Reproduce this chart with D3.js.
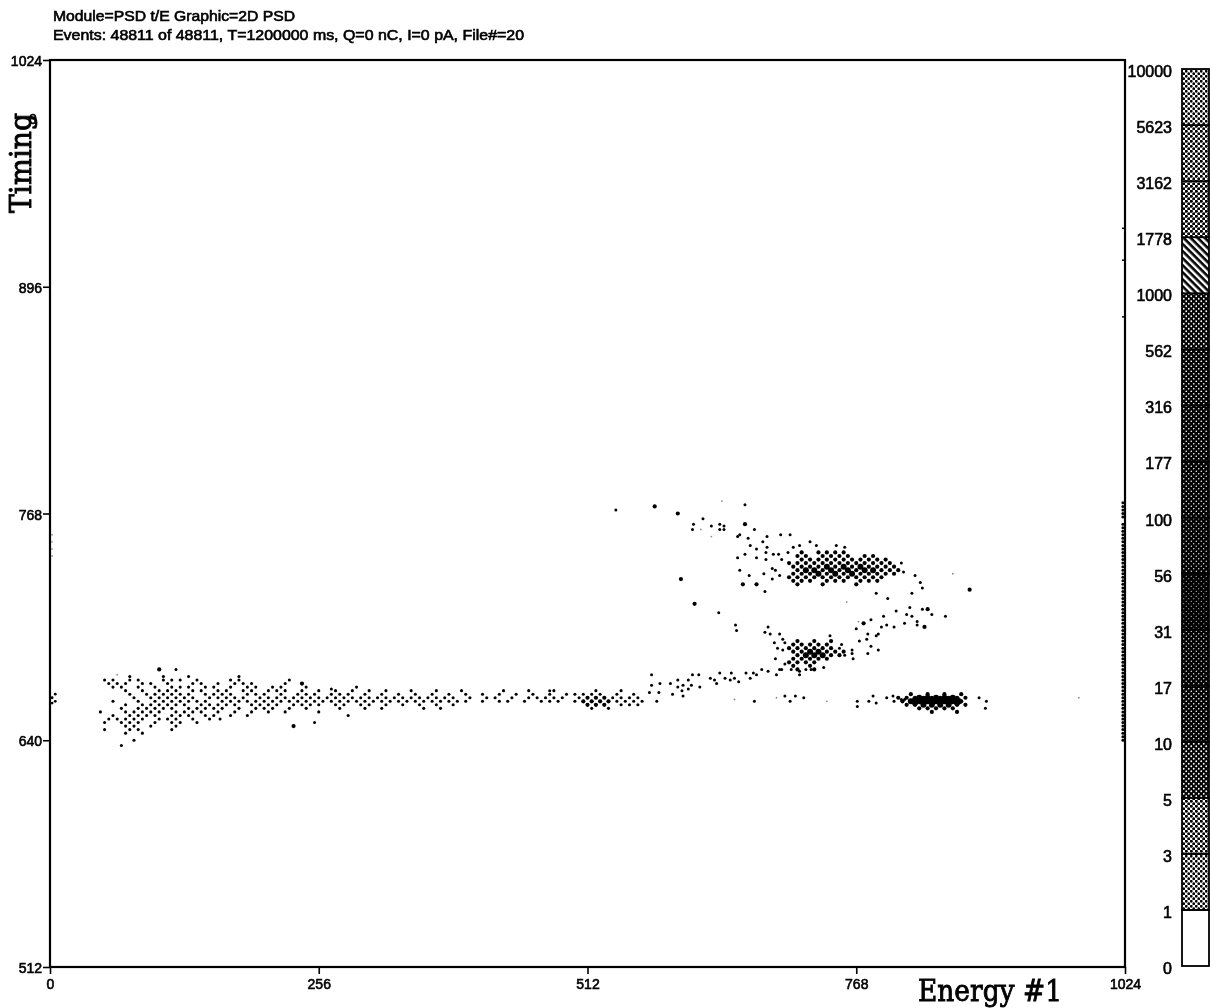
<!DOCTYPE html>
<html><head><meta charset="utf-8">
<script src="https://cdn.jsdelivr.net/npm/d3@7"></script>
<style>html,body{margin:0;padding:0;background:#fff}svg{display:block}
text{font-family:"Liberation Sans",sans-serif;fill:#000;stroke:#000;stroke-width:.6px}
.serif{font-family:"DejaVu Serif",serif;stroke-width:.9px}</style></head><body>
<script>
const energyTicks=[0,256,512,768,1024];
const timingTicks=[512,640,768,896,1024];
const levelLabels=["0","1","3","5","10","17","31","56","100","177","316","562","1000","1778","3162","5623","10000"];
const titleLines=["Module=PSD t/E Graphic=2D PSD","Events: 48811 of 48811, T=1200000 ms, Q=0 nC, I=0 pA, File#=20"];

// [timing, [energies]] : lattice rows of the histogram
const lightRows=[
[676,[76,108,132,180]],
[674,[52,60,76,84,108,116,124,140,172,180,228]],
[672,[56,64,72,88,96,112,136,144,160,176,184,192,224]],
[670,[60,68,84,100,116,124,132,148,156,172,188,196,212,220,244,292]],
[668,[72,88,104,112,120,136,144,160,168,184,192,208,216,224,240,256,272,288,304,320,344,368,392,432,456,480,520,544]],
[666,[76,92,100,108,116,124,132,148,156,164,172,188,196,204,220,236,244,252,268,276,284,300,316,332,348,364,380,396,412,428,444,460,476,492,500,508,516,524,540,556]],
[664,[80,96,104,112,120,128,136,152,160,168,176,184,200,208,216,224,232,240,248,256,264,272,280,288,296,304,312,320,328,336,344,352,360,368,376,384,400,416,424,440,456,464,472,480,488,504,512,520,528,536,544,552,560]],
[662,[60,84,100,108,116,124,132,140,148,164,172,180,188,196,204,212,220,228,236,244,252,260,268,276,284,292,300,308,316,324,332,340,348,356,364,372,380,388,396,412,428,436,452,468,476,484,500,508,516,524,532,540,548,556,564]],
[660,[72,88,96,104,112,120,128,144,152,160,168,176,192,200,208,216,232,240,248,256,272,280,296,304,320,336,352,368,384,512,520,528,544,552,560]],
[658,[68,84,92,100,108,116,132,140,148,156,164,180,196,204,212,228,244,276,300,316,356,372,516,532]],
[656,[48,72,80,88,96,104,120,128,136,144,160,176,192,208,224,256]],
[654,[60,76,84,92,100,116,124,132,148,156,172,188,284]],
[652,[56,64,72,80,88,104,112,120,136,152]],
[650,[52,68,76,84,100,116,124,140]],
[648,[72,80,96,120]],
[646,[52,76,84,116]],
[644,[72,88]],
[640,[80]],
[637,[68]]];

const denseRows=[
[746,[716,732,740,748,756]],
[744,[712,720,736,744,752,760,776,784]],
[742,[716,724,732,740,748,756,764,772,780,788,796]],
[740,[704,712,720,728,736,744,752,760,768,776,784,792,800]],
[738,[708,716,724,732,740,748,756,764,772,780,788,796,804]],
[736,[712,720,728,736,744,752,760,768,776,784,792,800,808]],
[734,[708,716,724,732,740,748,756,764,772,780,788,796,804]],
[732,[704,712,720,728,736,744,752,760,768,776,784,792]],
[730,[708,716,724,740,748,756,772,780,788]],
[728,[712,736,768]],
[696,[712,728,744]],
[694,[708,716,724,732,740]],
[692,[704,712,720,728,736,744]],
[690,[708,716,724,732,740,748,756]],
[688,[712,720,728,736,744,752]],
[686,[708,716,724,732,740]],
[684,[704,712,720,728]],
[682,[708,724]],
[680,[712,728]],
[666,[820,836,852,868]],
[664,[808,816,824,832,840,848,856,864,872]],
[662,[812,820,828,836,844,852,860,868]],
[660,[816,824,832,840,848,856,864,872]],
[658,[828,836,844,852,860]],
[656,[840,864]],
[664,[512,520,528]],
[662,[508,516,524,532]],
[660,[512,520,528]]];

const coreRows=[
[738,[740,756,772]],
[736,[720,728,744,760,776,784]],
[734,[732,748,764]],
[690,[724,732]],
[688,[720,728,736]],
[664,[828,836,844,852,860]],
[663,[824,832,840,848,856,864]],
[662,[820,828,836,844,852,860,866]],
[661,[824,832,840,848,856,864]],
[660,[832,840,848,856]]];

// isolated events: [energy, timing]
const scatterEvents=[[539,770],[613,762],[612,759],[622,765],[630,761],[638,762],[642,761],[638,759],[642,759],[662,773],[671,759],[655,755],[657,756],[665,754],[683,755],[696,756],[705,756],[667,750],[679,752],[673,748],[683,749],[708,749],[714,750],[724,752],[730,750],[749,750],[757,749],[655,743],[662,745],[673,743],[682,746],[689,745],[694,745],[703,746],[682,742],[697,742],[657,736],[688,737],[691,736],[666,733],[680,734],[688,731],[695,733],[681,724],[637,712],[653,705],[654,702],[787,723],[798,720],[821,723],[831,726],[829,729],[824,733],[813,735],[811,740],[819,715],[831,714],[840,711],[816,711],[821,710],[806,713],[794,710],[782,708],[853,710],[826,707],[826,705],[814,706],[804,704],[797,705],[792,704],[789,700],[779,700],[787,699],[768,703],[778,697],[771,696],[782,693],[789,691],[779,689],[764,691],[764,689],[765,686],[754,694],[752,692],[757,688],[743,699],[684,704],[681,701],[686,700],[695,700],[690,695],[698,697],[700,695],[693,692],[698,691],[691,686],[700,683],[695,680],[692,677],[706,680],[714,679],[714,677],[725,680],[720,680],[737,681],[573,677],[573,671],[581,672],[571,667],[580,667],[578,662],[593,666],[603,665],[591,672],[602,668],[598,670],[598,674],[608,674],[603,671],[611,671],[608,669],[618,677],[612,677],[619,670],[629,675],[635,672],[633,674],[638,678],[643,675],[649,678],[648,674],[652,675],[656,673],[663,678],[667,675],[673,677],[670,678],[678,680],[684,679],[697,680],[671,662],[705,662],[710,665],[700,665],[718,664],[769,662],[769,659],[780,662],[784,665],[787,661],[797,664],[803,665],[804,662],[811,663],[814,663],[885,664],[892,662],[891,658],[476,668],[268,669],[120,680],[252,650],[162,652]];
const largeEvents=[[576,772],[598,768],[662,762],[660,728],[673,728],[601,731],[614,717],[876,725],[836,714],[833,704],[775,706],[104,680],[232,648],[240,672]];
const faintEvents=[[64,677],[652,663],[692,664],[740,662],[759,718],[860,734],[620,759],[640,775],[630,755],[770,707],[980,664]];
const rightEdgeTiming=[774,772,770,768,766,762,760,758,756,754,752,750,748,746,744,742,740,738,736,734,732,730,728,726,724,722,720,718,716,714,712,710,708,706,704,702,700,698,696,694,692,690,688,686,684,682,680,678,676,674,672,670,668,666,664,662,660,658,656,654,652,650,648,646,644,642,640];
const leftEdgeEvents=[[5,666],[2,664],[5,662],[2,661]];
const leftEdgeFaint=[[2,756],[2,752],[2,748],[2,744]];
const axisBumps=[929,911,879];

const W=1212,H=1008;
const x=d3.scaleLinear().domain([0,1024]).range([50,1125]);
const y=d3.scaleLinear().domain([512,1024]).range([967,60]);
const svg=d3.select("body").append("svg").attr("width",W).attr("height",H);
const defs=svg.append("defs");
defs.append("filter").attr("id","scan").attr("filterUnits","userSpaceOnUse")
  .attr("x",0).attr("y",0).attr("width",W).attr("height",H)
  .append("feGaussianBlur").attr("stdDeviation",.7);
const root=svg.append("g").attr("filter","url(#scan)");

function flat(rows){return rows.flatMap(([t,es])=>es.map(e=>[e,t]));}
function dots(data,r,op){
  root.append("g").selectAll("circle").data(data).join("circle")
    .attr("cx",d=>x(d[0])).attr("cy",d=>y(d[1])).attr("r",r).attr("fill","#000").attr("opacity",op||1);
}
dots(faintEvents,.9,.45);
dots(leftEdgeFaint,.9,.4);
dots(scatterEvents,1.5);
dots(largeEvents,2.1);
dots(flat(lightRows),1.55);
dots(flat(denseRows),2.1);
dots(flat(coreRows),3);
dots(rightEdgeTiming.map(t=>[1022,t]),1.5);
dots(leftEdgeEvents,1.4);

// frame and axes
root.append("rect").attr("x",x(0)).attr("y",y(1024)).attr("width",x(1024)-x(0)).attr("height",y(512)-y(1024))
  .attr("fill","none").attr("stroke","#000").attr("stroke-width",2.2);
const xa=root.append("g").attr("transform",`translate(0,${y(512)})`)
  .call(d3.axisBottom(x).tickValues(energyTicks).tickSize(7).tickPadding(5).tickFormat(d3.format("d")));
const ya=root.append("g").attr("transform",`translate(${x(0)},0)`)
  .call(d3.axisLeft(y).tickValues(timingTicks).tickSize(7).tickPadding(1).tickFormat(d3.format("d")));
[xa,ya].forEach(a=>{a.select(".domain").remove();a.selectAll("line").attr("stroke","#000").attr("stroke-width",1.6);
  a.selectAll("text").attr("font-size",14).attr("font-family",null);});
ya.selectAll("text").attr("dy","0.4em");
root.append("g").selectAll("line").data(axisBumps).join("line")
  .attr("x1",x(1024)-3).attr("x2",x(1024)).attr("y1",d=>y(d)).attr("y2",d=>y(d)).attr("stroke","#000").attr("stroke-width",1.5);

// titles
root.selectAll(".ttl").data(titleLines).join("text").attr("class","ttl")
  .attr("x",53).attr("y",(d,i)=>21+i*18.5).attr("font-size",14).attr("textLength",(d,i)=>i?471:242)
  .attr("lengthAdjust","spacingAndGlyphs").text(d=>d);
root.append("text").attr("class","serif").attr("transform","translate(31,213) rotate(-90)")
  .attr("font-size",30).attr("textLength",100).attr("lengthAdjust","spacingAndGlyphs").text("Timing");
root.append("text").attr("x",29).attr("y",124).attr("font-size",14).text("0");
root.append("text").attr("class","serif").attr("x",918).attr("y",1001)
  .attr("font-size",30).attr("textLength",144).attr("lengthAdjust","spacingAndGlyphs").text("Energy #1");

// colour key: each band's halftone, bottom band first
const bandInk=[{},{k:1.4},{k:1.55},{w:.95},{w:.8},{w:.65},{w:.55},{w:.65},{w:.75},{w:.8},{w:.85},{w:.9},{h:1},{k:1.6},{k:1.5},{k:1.4}];
bandInk.forEach((s,i)=>{
  const p=defs.append("pattern").attr("id","lv"+i).attr("patternUnits","userSpaceOnUse").attr("width",5).attr("height",5);
  const dark=s.w!==undefined;
  p.append("rect").attr("width",5).attr("height",5).attr("fill",dark?"#000":"#fff");
  if(s.h){p.attr("patternTransform","rotate(45)").append("rect").attr("width",5).attr("height",2.6).attr("fill","#000");return;}
  const r=dark?s.w:s.k;
  if(!r)return;
  [[1.25,1.25],[3.75,3.75]].forEach(c=>p.append("circle").attr("cx",c[0]).attr("cy",c[1]).attr("r",r).attr("fill",dark?"#fff":"#000"));
});
const keyY=d3.scalePoint().domain(levelLabels).range([966,69]);
const segs=levelLabels.slice(0,-1);
root.append("g").selectAll("rect").data(segs).join("rect")
  .attr("x",1182).attr("width",27)
  .attr("y",(d,i)=>keyY(levelLabels[i+1])).attr("height",(d,i)=>keyY(d)-keyY(levelLabels[i+1]))
  .attr("fill",(d,i)=>`url(#lv${i})`).attr("stroke","#000").attr("stroke-width",1.8);
root.append("g").selectAll("text").data(levelLabels).join("text")
  .attr("x",1172).attr("y",d=>keyY(d)+8).attr("text-anchor","end").attr("font-size",16).text(d=>d);
</script></body></html>
